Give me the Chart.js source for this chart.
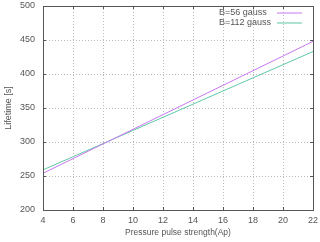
<!DOCTYPE html>
<html><head><meta charset="utf-8">
<script src="https://cdn.jsdelivr.net/npm/chart.js@4"></script>
<style>html,body{margin:0;padding:0;background:#fff}#w{width:320px;height:242px}</style>
</head><body><div id="w"><canvas id="c"></canvas></div>
<script>
const pressure = [4, 22];
const b56 = [254, 448];
const b112 = [259, 433];
const seriesLabels = ["B=56 gauss", "B=112 gauss"];
const seriesColors = ['#c878f0', '#5ec8a8'];
const xTicks = [4, 6, 8, 10, 12, 14, 16, 18, 20, 22];
const yTicks = [200, 250, 300, 350, 400, 450, 500];
const FONT = "'Liberation Sans', Arial, sans-serif";
const TXT = '#555';

const framePlugin = {
  id: 'frame',
  beforeDatasetsDraw(chart) {
    const {ctx, chartArea: a, scales} = chart;
    ctx.save();
    ctx.strokeStyle = '#bbb'; ctx.lineWidth = 1; ctx.setLineDash([1, 2]);
    ctx.beginPath();
    xTicks.slice(1, -1).forEach(v => { const x = Math.round(scales.x.getPixelForValue(v)) + 0.5;
      ctx.moveTo(x, a.top); ctx.lineTo(x, a.bottom); });
    yTicks.slice(1, -1).forEach(v => { const y = Math.round(scales.y.getPixelForValue(v)) + 0.5;
      ctx.moveTo(a.left, y); ctx.lineTo(a.right, y); });
    ctx.stroke();
    ctx.restore();
  },
  afterDraw(chart) {
    const {ctx, chartArea: a, scales} = chart;
    ctx.save();
    ctx.setLineDash([]);
    ctx.strokeStyle = '#555'; ctx.lineWidth = 1;
    ctx.strokeRect(Math.round(a.left) + 0.5, Math.round(a.top) + 0.5, Math.round(a.right - a.left), Math.round(a.bottom - a.top));
    ctx.beginPath();
    xTicks.forEach(v => { const x = Math.round(scales.x.getPixelForValue(v)) + 0.5;
      ctx.moveTo(x, a.bottom); ctx.lineTo(x, a.bottom - 3); ctx.moveTo(x, a.top); ctx.lineTo(x, a.top + 3); });
    yTicks.forEach(v => { const y = Math.round(scales.y.getPixelForValue(v)) + 0.5;
      ctx.moveTo(a.left, y); ctx.lineTo(a.left + 3, y); ctx.moveTo(a.right, y); ctx.lineTo(a.right - 3, y); });
    ctx.stroke();
    // legend
    ctx.font = '9px ' + FONT; ctx.textBaseline = 'middle'; ctx.textAlign = 'left';
    for (let i = 0; i < seriesLabels.length; i++) {
      const y = 13 + i * 10;
      ctx.fillStyle = TXT;
      ctx.fillText(seriesLabels[i], 219, y);
      ctx.fillStyle = seriesColors[i];
      ctx.fillRect(277, y - 0.5, 25, 1);
    }
    ctx.restore();
  }
};

new Chart(document.getElementById('c'), {
  type: 'scatter',
  data: { datasets: [
    { label: seriesLabels[0], data: pressure.map((x, i) => ({x, y: b56[i]})), borderColor: seriesColors[0], showLine: true, borderWidth: 1, pointRadius: 0 },
    { label: seriesLabels[1], data: pressure.map((x, i) => ({x, y: b112[i]})), borderColor: seriesColors[1], showLine: true, borderWidth: 1, pointRadius: 0 }
  ]},
  options: {
    responsive: true, maintainAspectRatio: false, animation: false,
    layout: { padding: { top: 6, right: 7, left: 3, bottom: 0 } },
    plugins: { legend: { display: false }, tooltip: { enabled: false } },
    scales: {
      x: { type: 'linear', min: 4, max: 22, afterBuildTicks: s => { s.ticks = xTicks.map(v => ({value: v})); },
        afterFit: s => { s.height = 32; s.paddingLeft = 0; s.paddingRight = 0; },
        grid: { display: false, drawTicks: false },
        border: { display: false },
        ticks: { color: TXT, font: { family: FONT, size: 9 }, padding: 5, maxRotation: 0 },
        title: { display: true, text: 'Pressure pulse strength(Ap)', color: TXT, font: { family: FONT, size: 8.5 }, padding: { top: 2, bottom: 4 } } },
      y: { min: 200, max: 500, afterBuildTicks: s => { s.ticks = yTicks.map(v => ({value: v})); },
        afterFit: s => { s.width = 40; s.paddingTop = 0; s.paddingBottom = 0; },
        grid: { display: false, drawTicks: false },
        border: { display: false },
        ticks: { color: TXT, font: { family: FONT, size: 9 }, padding: 8 },
        title: { display: true, text: 'Lifetime [s]', color: TXT, font: { family: FONT, size: 9 }, padding: 0 } }
    }
  },
  plugins: [framePlugin]
});
</script></body></html>
